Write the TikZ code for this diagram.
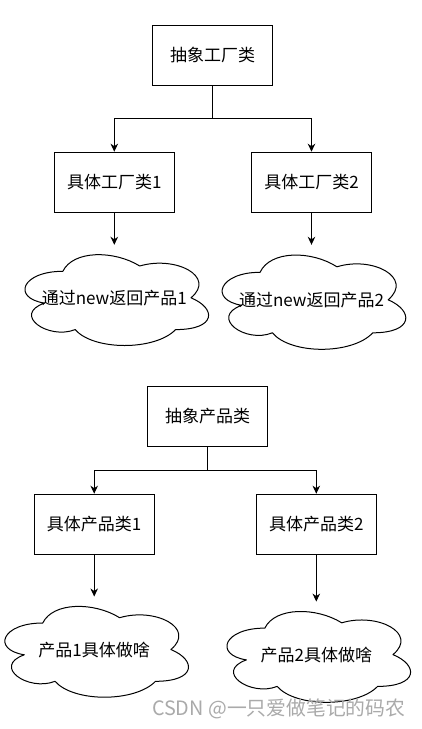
\documentclass[tikz,border=0pt]{standalone}
\usepackage{fontspec}
\setmainfont{Noto Sans CJK SC}
\usetikzlibrary{arrows.meta}
\definecolor{wmgray}{RGB}{170,170,170}
\tikzset{
  box/.style={draw, line width=1pt, minimum width=120pt, minimum height=60pt, inner sep=0pt, font=\fontsize{17}{20}\selectfont},
  cloudtxt/.style={inner sep=0pt, font=\fontsize{17}{20}\selectfont},
  conn/.style={line width=1pt},
  arr/.style={conn, -{Stealth[length=8pt,width=7.5pt,inset=2.5pt]}},
  cloudline/.style={line width=1pt, line join=round},
}
\newcommand{\drawcloud}[3]{%
  \begin{scope}[shift={(#1.north west)}, x=#2, y=-#3]
    \draw[cloudline] (0.25,0.25) .. controls (0.05,0.25) and (0,0.5) .. (0.16,0.55)
      .. controls (0,0.66) and (0.18,0.9) .. (0.31,0.8)
      .. controls (0.4,1) and (0.7,1) .. (0.8,0.8)
      .. controls (1,0.8) and (1,0.6) .. (0.875,0.5)
      .. controls (1,0.3) and (0.8,0.1) .. (0.625,0.2)
      .. controls (0.5,0.05) and (0.3,0.05) .. (0.25,0.25) -- cycle;
  \end{scope}}
\begin{document}
\begin{tikzpicture}[x=1pt, y=-1pt]
  \fill[white] (0,0) rectangle (422,729);
  \useasboundingbox (0,0) rectangle (422,729);

  % factory part
  \node[box] (af) at (212.7,55.5) {抽象工厂类};
  \node[box] (f1) at (114.3,182.2) {具体工厂类1};
  \node[box] (f2) at (311.5,182.2) {具体工厂类2};
  \coordinate (j1) at (212.7,118.6);
  \node[cloudtxt, minimum width=205pt, minimum height=106pt] (c1) at (114.3,298) {通过new返回产品1};
  \node[cloudtxt, minimum width=205pt, minimum height=110pt] (c2) at (311.5,300) {通过new返回产品2};
  \drawcloud{c1}{205pt}{106pt}
  \drawcloud{c2}{205pt}{110pt}

  \draw[arr] (af.south) -- (j1) -| (f1.north);
  \draw[arr] (j1) -| (f2.north);
  \draw[arr] (f1.south) -- (c1.north);
  \draw[arr] (f2.south) -- (c2.north);

  % product part
  \node[box] (ap) at (207.7,416) {抽象产品类};
  \node[box] (p1) at (94.2,524.2) {具体产品类1};
  \node[box] (p2) at (316.3,524.2) {具体产品类2};
  \coordinate (j2) at (207.7,470.3);
  \node[cloudtxt, minimum width=205pt, minimum height=106pt] (c3) at (94.2,649.7) {产品1具体做啥};
  \node[cloudtxt, minimum width=205pt, minimum height=106pt] (c4) at (316.3,654.8) {产品2具体做啥};
  \drawcloud{c3}{205pt}{106pt}
  \drawcloud{c4}{205pt}{106pt}

  \draw[arr] (ap.south) -- (j2) -| (p1.north);
  \draw[arr] (j2) -| (p2.north);
  \draw[arr] (p1.south) -- (c3.north);
  \draw[arr] (p2.south) -- (c4.north);

  % watermark
  \node[anchor=east, inner sep=0pt, text=wmgray, font=\fontsize{19.8}{22}\selectfont] (wm) at (405.5,708.5) {CSDN @一只爱做笔记的码农};
\end{tikzpicture}
\end{document}
